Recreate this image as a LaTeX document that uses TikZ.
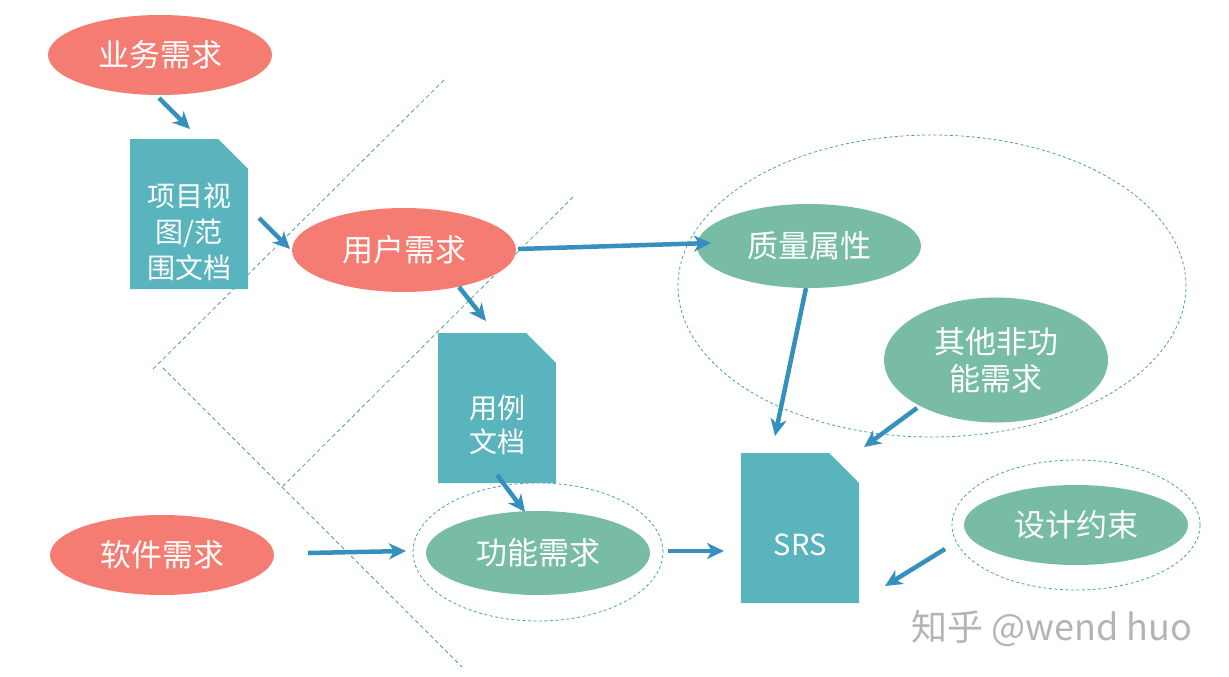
\documentclass[tikz,border=0pt]{standalone}
\usepackage{fontspec}
\setmainfont{Noto Sans CJK SC}
\usetikzlibrary{shapes.geometric,arrows.meta}
\definecolor{coral}{HTML}{F47C72}
\definecolor{docteal}{HTML}{5AB4BE}
\definecolor{greenell}{HTML}{78BCA6}
\definecolor{arrowblue}{HTML}{3590BE}
\definecolor{dashcol}{HTML}{4E9FA6}
\definecolor{wmgray}{HTML}{B4B4B4}
\begin{document}
\begin{tikzpicture}[x=1pt,y=-1pt,
  ell/.style={ellipse, inner sep=0pt, text=white, align=center,
    font=\fontsize{31}{37}\selectfont},
  redell/.style={ell, fill=coral, minimum width=224pt, minimum height=80pt},
  greenell/.style={ell, fill=greenell, minimum width=224pt, minimum height=84pt},
  ring/.style={ellipse, draw=dashcol, line width=0.8pt, dash pattern=on 3pt off 2.5pt, inner sep=0pt},
  docbox/.style={rectangle, inner sep=0pt, minimum width=118pt, minimum height=150pt,
    path picture={\fill[docteal] (path picture bounding box.south west)
      -- (path picture bounding box.north west)
      -- ([xshift=-30pt]path picture bounding box.north east)
      -- ([yshift=-30pt]path picture bounding box.north east)
      -- (path picture bounding box.south east) -- cycle;}},
  doctext/.style={inner sep=0pt, text=white, align=center, font=\fontsize{28}{36}\selectfont},
  arr/.style={draw=arrowblue, line width=4.5pt, -{Stealth[length=17pt,width=16pt,inset=5pt]}},
  guide/.style={draw=dashcol, line width=0.8pt, dash pattern=on 4pt off 3pt},
]
\useasboundingbox (0,0) rectangle (1229,677);

% guide lines
\coordinate (gA1) at (444,80);
\coordinate (gA2) at (152,370);
\coordinate (gB1) at (163,368);
\coordinate (gB2) at (462,667);
\coordinate (gC1) at (573,197);
\coordinate (gC2) at (282,487);
\draw[guide] (gA1) -- (gA2);
\draw[guide] (gB1) -- (gB2);
\draw[guide] (gC1) -- (gC2);

% dashed rings
\node[ring, minimum width=508pt, minimum height=302pt] (ringQ) at (932,286) {};
\node[ring, minimum width=250pt, minimum height=138pt] (ringF) at (538,552) {};
\node[ring, minimum width=248pt, minimum height=130pt] (ringD) at (1076,525) {};

% ellipses
\node[redell] (yw) at (160,55) {业务需求};
\node[redell, minimum height=84pt] (yh) at (404,250) {用户需求};
\node[redell] (rj) at (162,555) {软件需求};
\node[greenell] (zl) at (809,246) {质量属性};
\node[greenell, minimum height=125pt] (qt) at (996,360) {其他非功\\能需求};
\node[greenell] (gn) at (538,553) {功能需求};
\node[greenell, minimum height=80pt] (sj) at (1076,525) {设计约束};

% documents
\node[docbox] (d1) at (189,214) {};
\node[doctext] (d1t) at (189,232) {项目视\\图/范\\围文档};
\node[docbox] (d2) at (497,408) {};
\node[doctext, font=\fontsize{28}{34}\selectfont] (d2t) at (497,425) {用例\\文档};
\node[docbox] (d3) at (800,528) {};
\node[doctext, font=\fontsize{29}{34}\selectfont] (d3t) at (800,545) {SRS};

% arrow end points
\coordinate (a1s) at (159,98);   \coordinate (a1e) at (190,129);
\coordinate (a2s) at (259,218);  \coordinate (a2e) at (290,249);
\coordinate (a3s) at (518,249);  \coordinate (a3e) at (711,243);
\coordinate (a4s) at (459,287);  \coordinate (a4e) at (486,321);
\coordinate (a5s) at (497,475);  \coordinate (a5e) at (525,512);
\coordinate (a6s) at (308,553);  \coordinate (a6e) at (406,551);
\coordinate (a7s) at (668,551);  \coordinate (a7e) at (724,551);
\coordinate (a8s) at (806,288);  \coordinate (a8e) at (775,436);
\coordinate (a9s) at (917,408);  \coordinate (a9e) at (864,447);
\coordinate (a10s) at (945,549); \coordinate (a10e) at (885,586);

\draw[arr] (a1s) -- (a1e);
\draw[arr] (a2s) -- (a2e);
\draw[arr] (a3s) -- (a3e);
\draw[arr] (a4s) -- (a4e);
\draw[arr] (a5s) -- (a5e);
\draw[arr] (a6s) -- (a6e);
\draw[arr] (a7s) -- (a7e);
\draw[arr] (a8s) -- (a8e);
\draw[arr] (a9s) -- (a9e);
\draw[arr] (a10s) -- (a10e);

% watermark
\node[text=wmgray, inner sep=0pt, font=\fontsize{36}{42}\selectfont] (wm) at (1052,628) {知乎 @wend huo};
\end{tikzpicture}
\end{document}
